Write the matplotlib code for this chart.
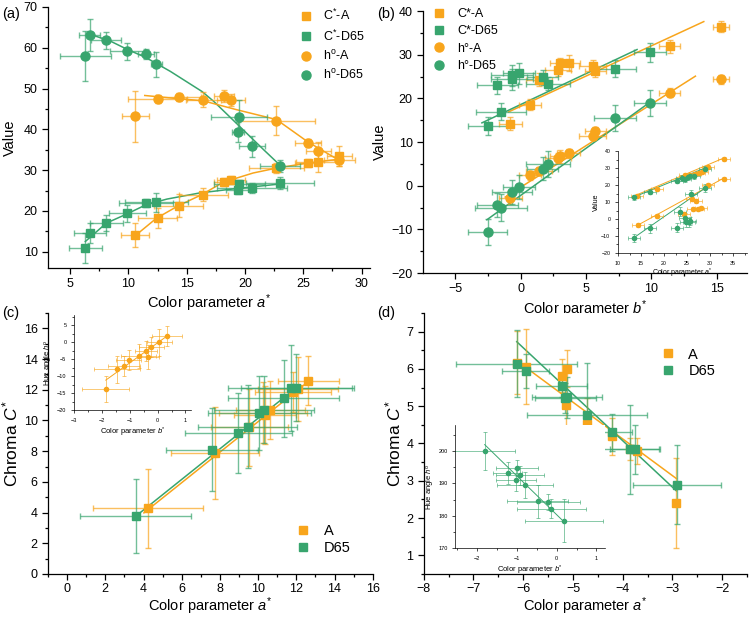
import matplotlib
matplotlib.use("Agg")
import matplotlib.pyplot as plt
from matplotlib.ticker import AutoMinorLocator, MultipleLocator

plt.rcParams['font.family'] = ['Liberation Sans', 'DejaVu Sans']
plt.rcParams['mathtext.fontset'] = 'custom'
plt.rcParams['mathtext.rm'] = 'Liberation Sans'
plt.rcParams['mathtext.it'] = 'Liberation Sans:italic'
plt.rcParams['mathtext.bf'] = 'Liberation Sans:bold'

ORANGE = '#F8A51C'
GREEN = '#38A56E'

# ---------------- Panel (a) data: values vs a* ----------------
a_A = [10.6, 12.5, 14.3, 16.4, 18.2, 18.8, 22.7, 25.4, 26.3, 28.1]
a_CA = [14.1, 18.3, 21.3, 24.0, 27.1, 27.6, 30.5, 31.7, 31.9, 33.4]
a_CA_xerr = [1.2, 1.7, 2.1, 2.1, 0.9, 1.2, 2.4, 1.1, 1.9, 1.1]
a_CA_yerr = [2.9, 2.4, 2.9, 1.5, 1.0, 1.0, 1.3, 1.0, 2.4, 2.4]
a_hA = [43.2, 47.4, 47.9, 47.3, 48.1, 47.1, 42.1, 36.7, 34.8, 32.5]
a_hA_xerr = [1.15, 2.5, 1.9, 1.5, 0.85, 1.2, 3.3, 1.1, 1.1, 1.3]
a_hA_yerr = [6.3, 1.0, 1.0, 1.9, 1.5, 1.5, 3.5, 1.0, 2.0, 1.5]

a_D = [6.3, 6.7, 8.1, 9.9, 11.5, 12.4, 19.5, 19.4, 20.6, 23.0]
a_CD = [10.9, 14.6, 17.1, 19.4, 21.9, 22.1, 26.7, 25.2, 25.6, 26.8]
a_CD_xerr = [1.4, 1.4, 1.4, 1.6, 2.3, 2.7, 2.2, 1.0, 3.0, 2.9]
a_CD_yerr = [3.6, 2.5, 2.0, 2.0, 1.0, 2.3, 1.0, 1.0, 1.2, 1.5]
a_hD = [57.9, 63.2, 61.8, 59.1, 58.5, 55.9, 43.1, 39.3, 35.8, 31.1]
a_hD_xerr = [2.2, 0.9, 1.3, 1.5, 0.7, 0.5, 2.4, 0.5, 1.1, 1.7]
a_hD_yerr = [6.1, 3.9, 2.1, 2.0, 1.2, 3.0, 4.0, 2.5, 2.5, 1.5]

# fitted curves
a_fit_hD_x = [6.7, 8.4, 9.9, 11.5, 13.6, 16.3, 17.3, 19.4, 21.6, 23.0]
a_fit_hD_y = [63.3, 61.7, 59.6, 57.6, 54.2, 49.3, 46.9, 41.1, 35.0, 31.2]
a_fit_hA_x = [11.4, 13.6, 16.4, 19.3, 22.7, 25.4, 27.9]
a_fit_hA_y = [48.3, 47.7, 47.0, 44.8, 42.4, 36.9, 32.7]
a_fit_CD_x = [6.3, 8.1, 9.9, 11.5, 13.3, 16.1, 19.0, 23.0]
a_fit_CD_y = [12.5, 17.0, 19.3, 21.5, 22.9, 24.4, 25.4, 26.6]
a_fit_CA_x = [10.7, 12.4, 14.3, 16.3, 18.1, 20.7, 22.7, 25.3, 28.1]
a_fit_CA_y = [14.2, 18.2, 21.3, 24.0, 27.0, 29.3, 30.5, 31.7, 32.7]

# ---------------- Panel (b) data: values vs b* ----------------
b_A = [-0.78, 0.74, 1.43, 2.85, 3.05, 3.67, 5.5, 5.7, 11.4, 15.3]
b_CA = [14.2, 18.6, 24.3, 26.6, 28.0, 28.1, 27.4, 26.2, 31.9, 36.4]
b_CA_xerr = [0.9, 0.85, 1.0, 1.0, 0.8, 0.9, 1.0, 0.8, 0.8, 0.6]
b_CA_yerr = [1.5, 1.2, 1.5, 1.5, 1.2, 1.8, 1.5, 1.2, 1.5, 1.3]
b_hA = [-2.8, 2.35, 3.4, 6.3, 6.7, 7.5, 11.5, 12.5, 21.3, 24.4]
b_hA_xerr = [0.9, 0.85, 1.0, 1.0, 0.8, 0.9, 1.0, 0.8, 0.8, 0.6]
b_hA_yerr = [1.5, 1.0, 1.0, 1.2, 1.5, 1.0, 1.0, 1.0, 1.0, 1.0]

b_D = [-2.5, -1.48, -1.76, -0.66, -0.66, -0.12, 1.68, 2.1, 7.2, 9.9]
b_CD = [13.7, 17.0, 23.0, 25.3, 24.4, 25.8, 24.8, 23.4, 26.8, 30.6]
b_CD_xerr = [1.5, 1.9, 1.6, 1.6, 1.6, 1.2, 1.2, 1.7, 1.6, 1.2]
b_CD_yerr = [2.0, 2.0, 2.0, 2.4, 2.4, 2.4, 1.8, 1.5, 2.0, 2.2]
b_hD_x = [-2.5, -1.76, -1.48, -0.66, -0.12, 1.68, 2.1, 7.2, 9.9]
b_hD = [-10.6, -4.4, -5.0, -1.5, -0.3, 3.9, 5.0, 15.6, 19.0]
b_hD_xerr = [1.5, 1.6, 2.0, 1.5, 1.2, 1.2, 1.7, 1.6, 1.2]
b_hD_yerr = [3.0, 2.7, 3.0, 2.8, 2.7, 2.7, 3.0, 3.0, 3.0]

b_fit_CA_x = [-0.92, 14.0]
b_fit_CA_y = [16.9, 37.6]
b_fit_CD_x = [-2.95, 8.9]
b_fit_CD_y = [14.4, 31.2]
b_fit_hA_x = [-1.17, 13.36]
b_fit_hA_y = [-2.6, 25.1]
b_fit_hD_x = [-2.57, 9.92]
b_fit_hD_y = [-7.8, 19.2]

# inset (b): values vs a*
bi_CA_x = [14.1, 18.4, 24.6, 25.7, 26.8, 27.5, 28.2, 29.6, 33.0]
bi_CA_y = [13.7, 17.8, 26.1, 26.1, 26.5, 27.1, 27.7, 30.7, 35.4]
bi_CD_x = [13.4, 17.0, 22.9, 23.9, 24.5, 25.1, 25.7, 26.4, 28.9]
bi_CD_y = [12.9, 16.2, 22.6, 24.2, 23.6, 24.8, 25.5, 25.1, 29.7]
bi_hA_x = [14.3, 18.4, 24.3, 26.1, 27.0, 26.3, 27.4, 28.0, 29.6, 33.0]
bi_hA_y = [-3.6, 2.0, 3.0, 11.7, 10.9, 5.7, 5.9, 6.7, 20.2, 23.6]
bi_hD_x = [13.4, 17.0, 22.7, 23.4, 24.5, 24.7, 25.4, 25.7, 25.8, 28.9]
bi_hD_y = [-11.1, -5.5, -5.0, 4.4, 0.8, -2.0, -2.0, -1.2, 14.9, 18.2]
bi_fit_CA_x = [14.1, 33.0]
bi_fit_CA_y = [14.3, 36.0]
bi_fit_CD_x = [13.4, 28.9]
bi_fit_CD_y = [12.9, 30.1]
bi_fit_hA_x = [14.3, 33.0]
bi_fit_hA_y = [-3.6, 24.2]
bi_fit_hD_x = [13.4, 28.9]
bi_fit_hD_y = [-11.1, 18.2]

# ---------------- Panel (c) data: C* vs a* ----------------
c_A_x = [4.25, 7.72, 9.54, 10.25, 10.36, 10.64, 11.84, 12.1, 12.62]
c_A_y = [4.27, 7.9, 9.55, 10.5, 10.35, 10.7, 11.84, 12.06, 12.6]
c_A_xerr = [2.87, 2.3, 2.0, 2.3, 1.6, 1.8, 2.0, 2.1, 1.6]
c_A_yerr = [2.6, 3.0, 2.5, 2.0, 1.9, 1.9, 1.3, 2.1, 1.6]
c_D_x = [3.6, 7.58, 8.96, 9.45, 10.06, 10.3, 11.34, 11.7, 12.0]
c_D_y = [3.77, 8.1, 9.2, 9.6, 10.5, 10.7, 11.45, 12.14, 12.14]
c_D_xerr = [2.9, 2.4, 2.8, 2.6, 2.7, 2.6, 2.9, 3.3, 2.9]
c_D_yerr = [2.4, 2.7, 2.6, 2.7, 2.4, 2.2, 2.5, 2.8, 2.2]
c_fit_A_x = [4.02, 12.69]
c_fit_A_y = [3.98, 12.6]
c_fit_D_x = [3.6, 12.0]
c_fit_D_y = [3.77, 12.14]

# inset (c): hue angle vs b*
ci_x = [-1.86, -1.46, -1.2, -1.04, -0.68, -0.41, -0.34, -0.22, 0.06, 0.34]
ci_y = [-13.8, -8.0, -7.0, -5.2, -4.1, -2.6, -4.3, -1.4, 0.0, 1.8]
ci_xerr = [0.85, 0.84, 0.57, 0.45, 0.63, 0.4, 0.4, 0.45, 0.45, 0.55]
ci_yerr = [3.8, 3.9, 3.0, 3.0, 3.5, 3.0, 3.5, 3.0, 4.0, 3.0]
ci_fit_x = [-1.86, 0.34]
ci_fit_y = [-11.2, 1.8]

# ---------------- Panel (d) data: C* vs a* ----------------
d_A_x = [-6.13, -5.95, -5.22, -5.11, -5.14, -4.72, -4.22, -3.85, -3.72, -2.92]
d_A_y = [6.17, 6.06, 5.82, 6.01, 5.04, 4.52, 4.19, 3.86, 3.81, 2.41]
d_A_yerr = [0.85, 1.0, 0.45, 0.5, 0.9, 0.7, 0.5, 0.3, 0.35, 1.2]
d_D_x = [-6.13, -5.95, -5.23, -5.12, -5.15, -4.72, -4.22, -3.85, -3.75, -2.91]
d_D_y = [6.14, 5.95, 5.55, 5.24, 5.22, 4.77, 4.3, 3.84, 3.84, 2.9]
d_D_xerr = [1.22, 0.47, 0.52, 0.7, 0.62, 1.2, 0.4, 0.58, 0.5, 0.88]
d_D_yerr = [0.9, 0.45, 0.3, 0.55, 0.4, 1.4, 0.5, 1.2, 0.65, 1.05]
d_fit_A_x = [-6.13, -2.92]
d_fit_A_y = [6.22, 3.06]
d_fit_D_x = [-6.13, -2.92]
d_fit_D_y = [6.73, 2.73]

# inset (d): hue angle vs b*
di_x = [-1.81, -1.23, -0.99, -1.03, -0.93, -0.8, -0.48, -0.21, -0.14, 0.18]
di_y = [200.0, 193.2, 194.7, 191.1, 192.5, 189.6, 184.4, 184.2, 182.2, 178.5]
di_xerr = [0.77, 0.37, 0.53, 0.5, 0.6, 0.7, 0.76, 0.8, 0.87, 0.98]
di_yerr = [5.9, 3.5, 2.5, 3.5, 3.0, 4.0, 5.0, 2.5, 3.0, 6.7]
di_fit_x = [-1.81, 0.15]
di_fit_y = [202.0, 178.5]


def eb(ax, x, y, xe, ye, color, marker, ms, label=None, lw=1.0, cap=2.5):
    ax.errorbar(x, y, xerr=xe, yerr=ye, fmt='none', ecolor=color,
                elinewidth=lw, capsize=cap, capthick=lw, alpha=0.7, zorder=2)
    h, = ax.plot(x, y, ls='none', marker=marker, color=color, ms=ms,
                 mec=color, label=label, zorder=3)
    return h


def style(ax, fs=9, minor=True, lw=0.9, tl=4):
    for s in ['top', 'right']:
        ax.spines[s].set_visible(False)
    for s in ['left', 'bottom']:
        ax.spines[s].set_linewidth(lw)
    ax.tick_params(direction='out', length=tl, width=lw, labelsize=fs)
    if minor:
        ax.xaxis.set_minor_locator(AutoMinorLocator(2))
        ax.yaxis.set_minor_locator(AutoMinorLocator(2))
        ax.tick_params(which='minor', direction='out', length=tl * 0.55, width=lw)


fig = plt.figure(figsize=(7.5, 6.17), dpi=100)

# ---------------- (a) ----------------
ax = fig.add_axes([0.064, 0.5656, 0.429, 0.4231])
ax.plot(a_fit_hD_x, a_fit_hD_y, color=GREEN, lw=1.1, zorder=1)
ax.plot(a_fit_hA_x, a_fit_hA_y, color=ORANGE, lw=1.1, zorder=1)
ax.plot(a_fit_CD_x, a_fit_CD_y, color=GREEN, lw=1.1, zorder=1)
ax.plot(a_fit_CA_x, a_fit_CA_y, color=ORANGE, lw=1.1, zorder=1)
h1 = eb(ax, a_A, a_CA, a_CA_xerr, a_CA_yerr, ORANGE, 's', 5.5, r'C$^{*}$-A')
h2 = eb(ax, a_D, a_CD, a_CD_xerr, a_CD_yerr, GREEN, 's', 5.5, r'C$^{*}$-D65')
h3 = eb(ax, a_A, a_hA, a_hA_xerr, a_hA_yerr, ORANGE, 'o', 6.5, r'h$^{\rm o}$-A')
h4 = eb(ax, a_D, a_hD, a_hD_xerr, a_hD_yerr, GREEN, 'o', 6.5, r'h$^{\rm o}$-D65')
ax.set_xlim(3.1, 30.7)
ax.set_ylim(6, 70)
ax.xaxis.set_major_locator(MultipleLocator(5))
ax.yaxis.set_major_locator(MultipleLocator(10))
style(ax)
ax.set_xlabel(r'Color parameter $a^{*}$', fontsize=10.5, labelpad=1.5)
ax.set_ylabel('Value', fontsize=10.5, labelpad=5)
ax.legend(handles=[h1, h2, h3, h4], loc='upper right', frameon=False,
          fontsize=9, handlelength=0.8, handletextpad=1.0, labelspacing=0.42,
          borderaxespad=0.0, bbox_to_anchor=(1.0, 1.015))
fig.text(0.003, 0.978, '(a)', fontsize=10.5, va='center')

# ---------------- (b) ----------------
ax = fig.add_axes([0.564, 0.5575, 0.432, 0.4245])
ax.plot(b_fit_CA_x, b_fit_CA_y, color=ORANGE, lw=1.1, zorder=1)
ax.plot(b_fit_CD_x, b_fit_CD_y, color=GREEN, lw=1.1, zorder=1)
ax.plot(b_fit_hA_x, b_fit_hA_y, color=ORANGE, lw=1.1, zorder=1)
ax.plot(b_fit_hD_x, b_fit_hD_y, color=GREEN, lw=1.1, zorder=1)
h1 = eb(ax, b_A, b_CA, b_CA_xerr, b_CA_yerr, ORANGE, 's', 5.5, 'C*-A')
h2 = eb(ax, b_D, b_CD, b_CD_xerr, b_CD_yerr, GREEN, 's', 5.5, 'C*-D65')
h3 = eb(ax, b_A, b_hA, b_hA_xerr, b_hA_yerr, ORANGE, 'o', 6.5, 'h°-A')
h4 = eb(ax, b_hD_x, b_hD, b_hD_xerr, b_hD_yerr, GREEN, 'o', 6.5, 'h°-D65')
ax.set_xlim(-7.45, 17.3)
ax.set_ylim(-20, 40)
ax.xaxis.set_major_locator(MultipleLocator(5))
ax.yaxis.set_major_locator(MultipleLocator(10))
style(ax)
ax.set_xlabel(r'Color parameter $b^{*}$', fontsize=10.5, labelpad=2)
ax.set_ylabel('Value', fontsize=10.5, labelpad=3)
ax.legend(handles=[h1, h2, h3, h4], loc='upper left', frameon=False,
          fontsize=9, handlelength=0.8, handletextpad=1.0, labelspacing=0.42,
          borderaxespad=0.0, bbox_to_anchor=(0.02, 1.03))
fig.text(0.503, 0.978, '(b)', fontsize=10.5, va='center')

# inset (b)
axi = fig.add_axes([0.824, 0.590, 0.172, 0.165])
axi.plot(bi_fit_CA_x, bi_fit_CA_y, color=ORANGE, lw=0.7)
axi.plot(bi_fit_CD_x, bi_fit_CD_y, color=GREEN, lw=0.7)
axi.plot(bi_fit_hA_x, bi_fit_hA_y, color=ORANGE, lw=0.7)
axi.plot(bi_fit_hD_x, bi_fit_hD_y, color=GREEN, lw=0.7)
eb(axi, bi_CA_x, bi_CA_y, 1.3, 1.2, ORANGE, 'o', 3.0, lw=0.6, cap=1.2)
eb(axi, bi_CD_x, bi_CD_y, 1.3, 1.5, GREEN, 'o', 3.0, lw=0.6, cap=1.2)
eb(axi, bi_hA_x, bi_hA_y, 1.3, 1.2, ORANGE, 'o', 3.0, lw=0.6, cap=1.2)
eb(axi, bi_hD_x, bi_hD_y, 1.3, 2.5, GREEN, 'o', 3.0, lw=0.6, cap=1.2)
axi.set_xlim(10, 38)
axi.set_ylim(-20, 40)
axi.xaxis.set_major_locator(MultipleLocator(5))
axi.yaxis.set_major_locator(MultipleLocator(10))
style(axi, fs=3.8, lw=0.5, tl=2)
axi.set_xlabel(r'Color parameter $a^{*}$', fontsize=5, labelpad=1)
axi.set_ylabel('Value', fontsize=5, labelpad=1)

# ---------------- (c) ----------------
ax = fig.add_axes([0.064, 0.0697, 0.433, 0.423])
ax.plot(c_fit_A_x, c_fit_A_y, color=ORANGE, lw=1.1, zorder=1)
ax.plot(c_fit_D_x, c_fit_D_y, color=GREEN, lw=1.1, zorder=1)
h1 = eb(ax, c_A_x, c_A_y, c_A_xerr, c_A_yerr, ORANGE, 's', 6, 'A')
h2 = eb(ax, c_D_x, c_D_y, c_D_xerr, c_D_yerr, GREEN, 's', 6, 'D65')
ax.set_xlim(-1, 16)
ax.set_ylim(0, 17)
ax.xaxis.set_major_locator(MultipleLocator(2))
ax.yaxis.set_major_locator(MultipleLocator(2))
style(ax)
ax.tick_params(axis='x', pad=2.5)
ax.set_xlabel(r'Color parameter $a^{*}$', fontsize=10.5, labelpad=0.5)
ax.set_ylabel(r'Chroma $C^{*}$', fontsize=12.5, labelpad=2)
ax.legend(handles=[h1, h2], loc='lower right', frameon=False, fontsize=10.5,
          handlelength=0.8, handletextpad=1.0, labelspacing=0.2,
          bbox_to_anchor=(0.95, 0.05), borderaxespad=0)
fig.text(0.003, 0.493, '(c)', fontsize=10.5, va='center')

# inset (c)
axi = fig.add_axes([0.0987, 0.3355, 0.156, 0.154])
axi.plot(ci_fit_x, ci_fit_y, color=ORANGE, lw=0.7)
eb(axi, ci_x, ci_y, ci_xerr, ci_yerr, ORANGE, 'o', 3.0, lw=0.6, cap=1.2)
axi.set_xlim(-3, 1.2)
axi.set_ylim(-20, 8)
axi.xaxis.set_major_locator(MultipleLocator(1))
axi.yaxis.set_major_locator(MultipleLocator(5))
style(axi, fs=4, lw=0.5, tl=2)
axi.set_xlabel(r'Color parameter $b^{*}$', fontsize=5.5, labelpad=2)
axi.set_ylabel(r'Hue angle $h^{\rm o}$', fontsize=5.5, labelpad=1)

# ---------------- (d) ----------------
ax = fig.add_axes([0.565, 0.0697, 0.431, 0.423])
ax.plot(d_fit_A_x, d_fit_A_y, color=ORANGE, lw=1.1, zorder=1)
ax.plot(d_fit_D_x, d_fit_D_y, color=GREEN, lw=1.1, zorder=1)
h1 = eb(ax, d_A_x, d_A_y, None, d_A_yerr, ORANGE, 's', 6, 'A')
h2 = eb(ax, d_D_x, d_D_y, d_D_xerr, d_D_yerr, GREEN, 's', 6, 'D65')
ax.set_xlim(-8, -1.5)
ax.set_ylim(0.5, 7.5)
ax.xaxis.set_major_locator(MultipleLocator(1))
ax.yaxis.set_major_locator(MultipleLocator(1))
style(ax)
ax.tick_params(axis='x', pad=2.5)
ax.set_xlabel(r'Color parameter $a^{*}$', fontsize=10.5, labelpad=0.5)
ax.set_ylabel(r'Chroma $C^{*}$', fontsize=12.5, labelpad=2)
ax.legend(handles=[h1, h2], loc='upper right', frameon=False, fontsize=10.5,
          handlelength=0.8, handletextpad=1.0, labelspacing=0.2,
          bbox_to_anchor=(0.92, 0.89), borderaxespad=0)
fig.text(0.503, 0.493, '(d)', fontsize=10.5, va='center')

# inset (d)
axi = fig.add_axes([0.607, 0.1118, 0.2, 0.199])
axi.plot(di_fit_x, di_fit_y, color=GREEN, lw=0.7)
eb(axi, di_x, di_y, di_xerr, di_yerr, GREEN, 'o', 3.0, lw=0.6, cap=1.2)
axi.set_xlim(-2.55, 1.22)
axi.set_ylim(170, 208)
axi.xaxis.set_major_locator(MultipleLocator(1))
axi.yaxis.set_major_locator(MultipleLocator(10))
style(axi, fs=4, lw=0.5, tl=2)
axi.set_xlabel(r'Color parameter $b^{*}$', fontsize=5.5, labelpad=2)
axi.set_ylabel(r'Hue angle $h^{\rm o}$', fontsize=5.5, labelpad=1)

fig.savefig('out.png', dpi=100)
